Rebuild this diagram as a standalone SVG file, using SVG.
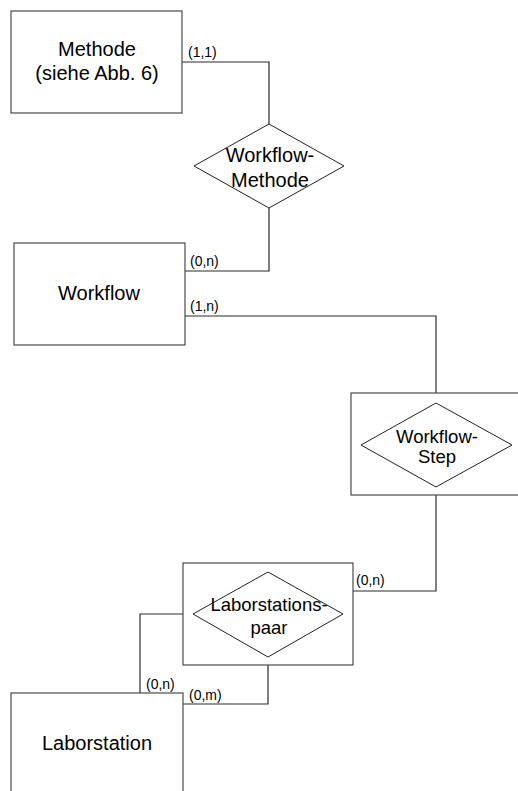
<svg xmlns="http://www.w3.org/2000/svg" width="518" height="791" viewBox="0 0 518 791">
  <style>
    .ent { fill: #fff; stroke: #4a4a4a; stroke-width: 1.2; }
    .rel { fill: #fff; stroke: #222; stroke-width: 1; }
    .wire { fill: none; stroke: #2a2a2a; stroke-width: 1.2; }
    .lbl { font-family: "Liberation Sans", Arial, sans-serif; font-size: 20px; fill: #000; text-anchor: middle; }
    .sm { font-family: "Liberation Sans", Arial, sans-serif; font-size: 18.5px; fill: #000; text-anchor: middle; }
    .card { font-family: "Liberation Sans", Arial, sans-serif; font-size: 14px; fill: #000; }
  </style>
  <rect width="518" height="791" fill="#fff"/>

  <!-- connectors with cardinalities -->
  <g id="connectors">
    <polyline class="wire" points="182,62 269,62 269,124"/>
    <polyline class="wire" points="185,271 269,271 269,208"/>
    <polyline class="wire" points="185,316 436,316 436,403"/>
    <polyline class="wire" points="436,487 436,591 352,591"/>
    <polyline class="wire" points="193,614 140,614 140,693"/>
    <polyline class="wire" points="268,657 268,704 183,704"/>
    <text class="card" x="188" y="57">(1,1)</text>
    <text class="card" x="190" y="266">(0,n)</text>
    <text class="card" x="190" y="311">(1,n)</text>
    <text class="card" x="356" y="585">(0,n)</text>
    <text class="card" x="146" y="689">(0,n)</text>
    <text class="card" x="189" y="700">(0,m)</text>
  </g>

  <g id="methode">
    <rect class="ent" x="11" y="11" width="171" height="102"/>
    <text class="lbl" x="97" y="56">Methode</text>
    <text class="lbl" x="97" y="80">(siehe Abb. 6)</text>
  </g>

  <g id="workflow-methode">
    <polygon class="rel" points="269,124 344,166 269,208 194,166"/>
    <text class="lbl" x="270" y="162">Workflow-</text>
    <text class="lbl" x="270" y="187">Methode</text>
  </g>

  <g id="workflow">
    <rect class="ent" x="14" y="243" width="171" height="102"/>
    <text class="lbl" x="99" y="300">Workflow</text>
  </g>

  <g id="workflow-step">
    <rect class="ent" x="351" y="393" width="180" height="102"/>
    <polygon class="rel" points="436,403 512,445 436,487 361,445"/>
    <text class="sm" x="437" y="443">Workflow-</text>
    <text class="sm" x="437" y="463">Step</text>
  </g>

  <g id="laborstationspaar">
    <rect class="ent" x="183" y="563" width="170" height="102"/>
    <polygon class="rel" points="268,572 343,614 268,657 193,614"/>
    <text class="sm" x="269" y="611">Laborstations-</text>
    <text class="sm" x="269" y="634">paar</text>
  </g>

  <g id="laborstation">
    <rect class="ent" x="11" y="693" width="172" height="110"/>
    <text class="lbl" x="97" y="750">Laborstation</text>
  </g>
</svg>
